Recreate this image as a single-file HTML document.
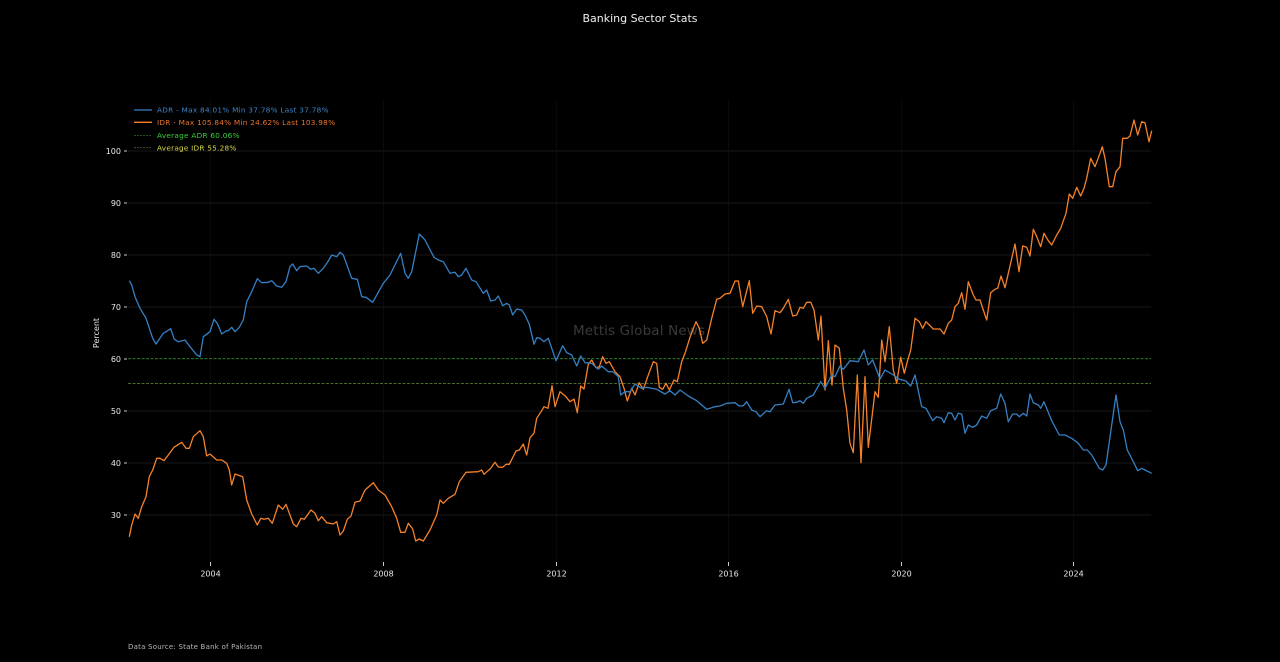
<!DOCTYPE html>
<html><head><meta charset="utf-8"><style>
html,body{margin:0;padding:0;background:#000;}
svg{display:block;}
text{font-family:"DejaVu Sans","Liberation Sans",sans-serif;}
</style></head><body>
<svg width="1280" height="662" viewBox="0 0 1280 662" xmlns="http://www.w3.org/2000/svg">
<rect width="1280" height="662" fill="#000"/>
<text x="640" y="22" fill="#f0f0f0" font-size="11" text-anchor="middle" textLength="115">Banking Sector Stats</text>
<!-- grid -->
<g stroke="#171717" stroke-width="1">
<line x1="128" y1="151" x2="1151" y2="151"/><line x1="128" y1="203" x2="1151" y2="203"/>
<line x1="128" y1="255" x2="1151" y2="255"/><line x1="128" y1="307" x2="1151" y2="307"/>
<line x1="128" y1="411" x2="1151" y2="411"/>
<line x1="128" y1="463" x2="1151" y2="463"/><line x1="128" y1="515" x2="1151" y2="515"/>
</g>
<g stroke="#141414" stroke-width="1" stroke-dasharray="1,1">
<line x1="210.5" y1="100" x2="210.5" y2="562"/><line x1="383.5" y1="100" x2="383.5" y2="562"/>
<line x1="556.5" y1="100" x2="556.5" y2="562"/><line x1="728.5" y1="100" x2="728.5" y2="562"/>
<line x1="901.5" y1="100" x2="901.5" y2="562"/><line x1="1073.5" y1="100" x2="1073.5" y2="562"/>
</g>
<!-- y ticks -->
<g fill="#e8e8e8" font-size="8" text-anchor="end">
<text x="121" y="154">100</text><text x="121" y="206">90</text><text x="121" y="258">80</text>
<text x="121" y="310">70</text><text x="121" y="362">60</text><text x="121" y="414">50</text>
<text x="121" y="466">40</text><text x="121" y="518">30</text>
</g>
<g stroke="#ccc" stroke-width="1">
<line x1="124" y1="151" x2="127" y2="151"/><line x1="124" y1="203" x2="127" y2="203"/>
<line x1="124" y1="255" x2="127" y2="255"/><line x1="124" y1="307" x2="127" y2="307"/>
<line x1="124" y1="359" x2="127" y2="359"/><line x1="124" y1="411" x2="127" y2="411"/>
<line x1="124" y1="463" x2="127" y2="463"/><line x1="124" y1="515" x2="127" y2="515"/>
</g>
<text x="99" y="333" fill="#e8e8e8" font-size="8" text-anchor="middle" transform="rotate(-90 99 333)">Percent</text>
<!-- x ticks -->
<g stroke="#ccc" stroke-width="1">
<line x1="210.5" y1="562" x2="210.5" y2="566"/><line x1="383.5" y1="562" x2="383.5" y2="566"/>
<line x1="556.5" y1="562" x2="556.5" y2="566"/><line x1="728.5" y1="562" x2="728.5" y2="566"/>
<line x1="901.5" y1="562" x2="901.5" y2="566"/><line x1="1073.5" y1="562" x2="1073.5" y2="566"/>
</g>
<g fill="#e8e8e8" font-size="8" text-anchor="middle">
<text x="210.5" y="576.5">2004</text><text x="383.5" y="576.5">2008</text><text x="556.5" y="576.5">2012</text>
<text x="728.5" y="576.5">2016</text><text x="901.5" y="576.5">2020</text><text x="1073.5" y="576.5">2024</text>
</g>
<!-- watermark -->
<text x="573" y="335" fill="#3a3a3a" font-size="13.5" textLength="132">Mettis Global News</text>
<!-- averages -->
<line x1="128" y1="358.7" x2="1151" y2="358.7" stroke="#2f8f2f" stroke-width="0.9" stroke-dasharray="3,1.5"/>
<line x1="128" y1="383.5" x2="1151" y2="383.5" stroke="#4f6a2c" stroke-width="0.9" stroke-dasharray="3,1.5"/>
<!-- IDR -->
<polyline fill="none" stroke="#f5822a" stroke-width="1.3" stroke-linejoin="round" points="129.3,536.7 131.7,525 135,514 138.3,518.3 141.7,506.7 146,496.7 149.3,476.7 152.7,470 156.7,458.3 160,458.3 164,460.7 168.3,455 174,447.3 181.7,442.3 186,448.3 189.3,448.3 193.3,436.7 200,430.7 203.3,436.7 206.7,456 210,454 216.7,460 221.7,460 226.7,463.3 229.3,470 231.7,485 235,474 242.7,476.7 246.7,500 251.7,514 257.3,525 260.7,518.3 264,519.3 268.3,518.3 272.3,523.3 278.3,505 282.7,509.3 286,504.3 293.3,524 296.7,526.7 301,518.3 304.3,519.3 311,510 315,513.3 318.3,520.7 321.7,516.7 326.7,522.7 333.3,524 336.7,521.7 340,535 343.3,531 347.3,519.3 351,516 355,502.3 360,501 365,490 373.3,482.7 378.3,490 385,495 391.7,506.7 396.7,518.3 400.7,532.3 405,532.3 408.3,523.3 412.7,529 415.7,541 419.3,539 423.3,541 430,530 436.7,515 440,500 443.3,503.3 448.3,498.3 455,494.3 459.3,481.7 466,472.3 478.3,471.7 481.7,470 484,474.3 490.7,468.3 495,462.3 498.3,467 502.7,467.3 506,464.3 509.3,464.3 516,451 519.3,450 523.3,444 526.7,455 530,437.7 534,433.3 536.7,418.3 541.7,410.7 544,406.7 548,408.3 552,385.7 555,406.7 560,391.7 565,395.7 570,401.7 574,399 577.3,412.7 580.7,386 584,389 588.3,364.3 591.7,360 596,367.7 599.3,366.7 602.7,356.7 606,363.3 609.3,361.7 615,371.7 620,376.7 624,388.3 627.3,401 631.7,388.3 635,395 639.3,382.7 643.3,389.3 648.3,375 653.3,361.7 656.7,363.3 659.3,387.3 662.7,389.3 666,383.3 669.3,390 674,380 677.3,381.7 681.7,361.7 685,353.3 690,337.3 696,321.7 699.3,328.3 702.7,343.3 706.7,340 711.7,318.3 716.7,299.3 720,298.3 725,294 730,293.3 735,281 738.3,281 742.7,306.7 749.3,280.7 752.7,313.3 756.7,306 761.7,306.7 766.7,316.7 771,334 775,310.7 780,312.7 783.3,308.3 788.3,299.3 792.7,316 796.7,315 800,307.3 803.3,308.3 806.7,302.3 810.7,302.3 814,310 818.3,340 821,316 825,390 828.3,340.7 832,385 835,345 839.3,348.3 843.3,388.3 846.7,410 850,443.3 853.3,452.7 857.3,375 861,462.7 865,376.7 868.3,447.3 875,391.7 878.3,397.3 881.7,340 885,361.7 889.3,326.7 893.3,370 896.7,383.3 900.7,357.3 904.3,373.3 907.3,361.7 910.7,350 915,318.3 919.3,321.7 922.7,328.3 926,321.7 933.3,329 940,329 944,334 948.3,323.3 951.7,320 955,306.7 958.3,303.3 961.7,292.7 965,309.3 968.3,281.7 973.3,295 976,300 980,300 983.3,310 986.7,320 990.7,292.7 995,289.3 997.7,288.3 1001,276 1005,287.7 1010,266 1015,244 1019,271.7 1022.7,246 1026.7,247.3 1030,256 1033.3,229.3 1036.7,236.7 1040.7,246.7 1044,233.3 1048.3,240.7 1051.7,245 1056.7,235 1060.7,228.3 1066,213.3 1069.3,194 1072.7,198.3 1076.7,187.3 1080.7,196 1084,188.3 1086.7,178.3 1090.7,158.3 1095,166.7 1100,153.3 1102.3,146.7 1105,158.3 1109.3,186.7 1112.7,186.7 1116,171.7 1120,166.7 1122.7,138.3 1127.3,138.3 1130,136 1134,120 1137.7,135 1141.7,121.7 1145,122.7 1149,141.7 1151.7,130.7"/>
<!-- ADR -->
<polyline fill="none" stroke="#3580c4" stroke-width="1.3" stroke-linejoin="round" points="129.3,280.7 131.7,285 135,296.7 140,308.3 146,318.3 152.7,338.3 156,344 163.3,333.3 170.7,328.7 174.3,339.3 178.3,341.7 185,340 190,346.7 196.7,355 200,356.7 203.3,336.7 210,331.7 214,319.3 217.3,323.3 221.7,334 226,331 228.3,330.7 231.7,327.3 235,331.7 239.3,327.3 243.3,320 246.7,301.7 251.7,291.7 257.3,278.7 261.7,282.7 268.3,282.3 271.7,280.7 276.7,286 281.7,287.3 286,281.7 290,266.7 292.7,264 296.7,270.7 300,266.7 306.7,266 310.7,269.3 314,268.3 318.3,273.3 323.3,268.3 328.3,261 331.7,255 336.7,256.7 340,252.3 343.3,255 351.7,278.3 357.3,279.3 361.7,296.7 366,297.3 372.7,302.3 383.3,283.3 390,275 400.7,253.3 405,273.3 408.3,278.3 411.7,271.7 419.3,234 425,240 429.3,248.3 434,257.3 438.3,260 443.3,261.7 450,273.3 455,272.3 458.3,276.7 461.7,275 466,268.3 471.7,280 476,281.7 483.3,293.3 486.7,290 490.7,301 495,300 498.3,296 502.7,305.7 506.7,303.3 509.3,305 512.7,315 516.7,309 521.7,310 525,315 529.3,324.3 534,344.3 536.7,337.7 540,338.3 544,341.7 548.3,338.3 556,360.7 562.7,345.7 566.7,352.7 571.7,355 576.7,366 580.7,356 585,362.7 591.7,363.3 598.3,369.3 601.7,366 608.3,371.7 612.7,371.7 618.3,376.7 620.7,395 625,391.7 630,391.7 635,384 641.7,388.3 646.7,387.3 656.7,389.3 665,394 670,390.7 675,395 680,390 688.3,396 696.7,400.7 706.7,409.3 715,406.7 720,406 726.7,403.3 735,402.7 739.3,406 743.3,405.7 746.7,401.7 751.7,410 756,411.7 760,416.7 766.7,410.7 770,411.7 775,405 783.3,404 789,389.3 792.7,402.7 796.7,402.3 800,400.7 803.3,403.3 806.7,398.3 813.3,395 820.7,381.7 825,388.3 831.7,375 835,376.7 840,366 843.3,369.3 850,360.7 858.3,361.7 864,350 868.3,365 872.7,360 880,379 885,370 893.3,375 899.3,379.3 906,381 910.7,386 915,375 921.7,406.7 926,408.3 932.7,420.7 936.7,416.7 941.7,418.3 944,422.7 948.3,412.7 951.7,413.3 955,420 958.3,413.3 961.7,414 965,433.3 968.3,425 972.7,427.3 976.7,425 981.7,416 986.7,418.3 990.7,410.7 996.7,408.3 1000.7,394 1005,403.3 1008.3,421.7 1012.7,414 1016.7,414 1019.3,416.7 1023.3,413.3 1026.7,416 1030,394 1033.3,402.7 1038.3,405 1040.7,408.3 1044,401.7 1051.7,420.7 1059.3,435 1065,435 1071.7,438.3 1078.3,443.3 1083.3,450 1087.3,450 1091.7,455 1099.3,468.3 1102.7,470 1106,465 1111.7,425 1116,395 1120,421.7 1123.3,430 1127.3,450 1133.3,461.7 1137.7,470.7 1141.7,468.3 1145,470 1151.7,473.3"/>
<!-- legend -->
<line x1="134" y1="110" x2="152" y2="110" stroke="#3580c4" stroke-width="1.3"/>
<line x1="134" y1="122.3" x2="152" y2="122.3" stroke="#f5822a" stroke-width="1.3"/>
<line x1="134" y1="135.5" x2="152" y2="135.5" stroke="#2f6f2f" stroke-width="0.8" stroke-dasharray="2,1"/>
<line x1="134" y1="147.7" x2="152" y2="147.7" stroke="#4f5a3a" stroke-width="0.8" stroke-dasharray="2,1"/>
<g font-size="7.3">
<text x="157" y="112.6" fill="#3f84c8" textLength="171.5">ADR - Max 84.01% Min 37.78% Last 37.78%</text>
<text x="157" y="124.9" fill="#e8742c" textLength="178">IDR - Max 105.84% Min 24.62% Last 103.98%</text>
<text x="157" y="138.1" fill="#36d036" textLength="82.5">Average ADR 60.06%</text>
<text x="157" y="150.3" fill="#dcdc48" textLength="79.3">Average IDR 55.28%</text>
</g>
<text x="128" y="649" fill="#b8b8b8" font-size="7" textLength="134">Data Source: State Bank of Pakistan</text>
</svg>
</body></html>
